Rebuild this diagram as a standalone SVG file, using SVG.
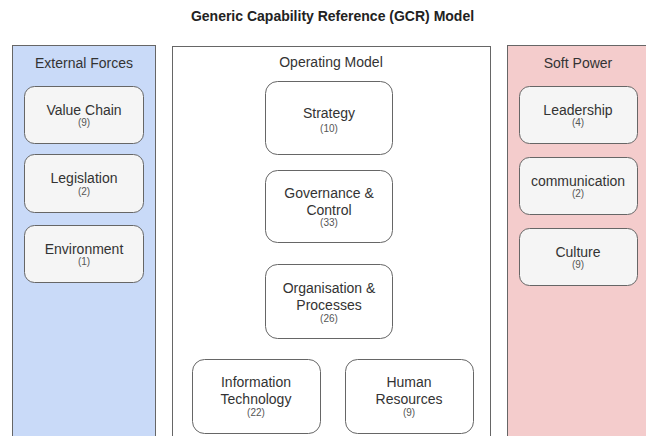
<svg xmlns="http://www.w3.org/2000/svg" width="646" height="436" viewBox="0 0 646 436">
  <style>
    text { font-family: "Liberation Sans", Arial, sans-serif; fill: #333333; text-anchor: middle; }
    .title { font-size: 14px; font-weight: bold; fill: #222222; }
    .clabel { font-size: 14px; }
    .name { font-size: 14px; }
    .num { font-size: 10px; fill: #555555; }
    .cont { stroke: #666666; stroke-width: 1; }
    .side { fill: #f5f5f5; stroke: #666666; stroke-width: 1; }
    .mid { fill: #ffffff; stroke: #666666; stroke-width: 1; }
  </style>
  <rect width="646" height="436" fill="#ffffff"/>
  <text class="title" x="332.5" y="21">Generic Capability Reference (GCR) Model</text>

  <g id="external-forces">
    <rect class="cont" x="12.5" y="45.5" width="143" height="400" fill="#c9daf8"/>
    <text class="clabel" x="84" y="68">External Forces</text>
  </g>
  <g id="operating-model">
    <rect class="cont" x="172.5" y="46.5" width="318" height="400" fill="#ffffff"/>
    <text class="clabel" x="331" y="67">Operating Model</text>
  </g>
  <g id="soft-power">
    <rect class="cont" x="507.5" y="45.5" width="145" height="400" fill="#f4cccc"/>
    <text class="clabel" x="578" y="68">Soft Power</text>
  </g>

  <g id="value-chain">
    <rect class="side" x="24.5" y="86.5" width="119" height="57" rx="10"/>
    <text class="name" x="84" y="115">Value Chain</text>
    <text class="num" x="84" y="126">(9)</text>
  </g>
  <g id="legislation">
    <rect class="side" x="24.5" y="154.5" width="119" height="58" rx="10"/>
    <text class="name" x="84" y="183">Legislation</text>
    <text class="num" x="84" y="195">(2)</text>
  </g>
  <g id="environment">
    <rect class="side" x="24.5" y="225.5" width="119" height="57" rx="10"/>
    <text class="name" x="84" y="254">Environment</text>
    <text class="num" x="84" y="265">(1)</text>
  </g>

  <g id="leadership">
    <rect class="side" x="519.5" y="86.5" width="118" height="57" rx="10"/>
    <text class="name" x="578" y="115">Leadership</text>
    <text class="num" x="578" y="126">(4)</text>
  </g>
  <g id="communication">
    <rect class="side" x="519.5" y="157.5" width="118" height="57" rx="10"/>
    <text class="name" x="578" y="186">communication</text>
    <text class="num" x="578" y="197">(2)</text>
  </g>
  <g id="culture">
    <rect class="side" x="519.5" y="228.5" width="118" height="57" rx="10"/>
    <text class="name" x="578" y="257">Culture</text>
    <text class="num" x="578" y="268">(9)</text>
  </g>

  <g id="strategy">
    <rect class="mid" x="265.5" y="81.5" width="127" height="73" rx="12"/>
    <text class="name" x="329" y="118">Strategy</text>
    <text class="num" x="329" y="132">(10)</text>
  </g>
  <g id="governance">
    <rect class="mid" x="265.5" y="170.5" width="127" height="72" rx="12"/>
    <text class="name" x="329" y="198">Governance &amp;</text>
    <text class="name" x="329" y="215">Control</text>
    <text class="num" x="329" y="226">(33)</text>
  </g>
  <g id="organisation">
    <rect class="mid" x="265.5" y="264.5" width="127" height="74" rx="12"/>
    <text class="name" x="329" y="293">Organisation &amp;</text>
    <text class="name" x="329" y="310">Processes</text>
    <text class="num" x="329" y="322">(26)</text>
  </g>
  <g id="information-technology">
    <rect class="mid" x="192.5" y="359.5" width="128" height="74" rx="12"/>
    <text class="name" x="256" y="387">Information</text>
    <text class="name" x="256" y="404">Technology</text>
    <text class="num" x="256" y="416">(22)</text>
  </g>
  <g id="human-resources">
    <rect class="mid" x="345.5" y="359.5" width="128" height="74" rx="12"/>
    <text class="name" x="409" y="387">Human</text>
    <text class="name" x="409" y="404">Resources</text>
    <text class="num" x="409" y="416">(9)</text>
  </g>

  <g id="connectors"></g>
</svg>
